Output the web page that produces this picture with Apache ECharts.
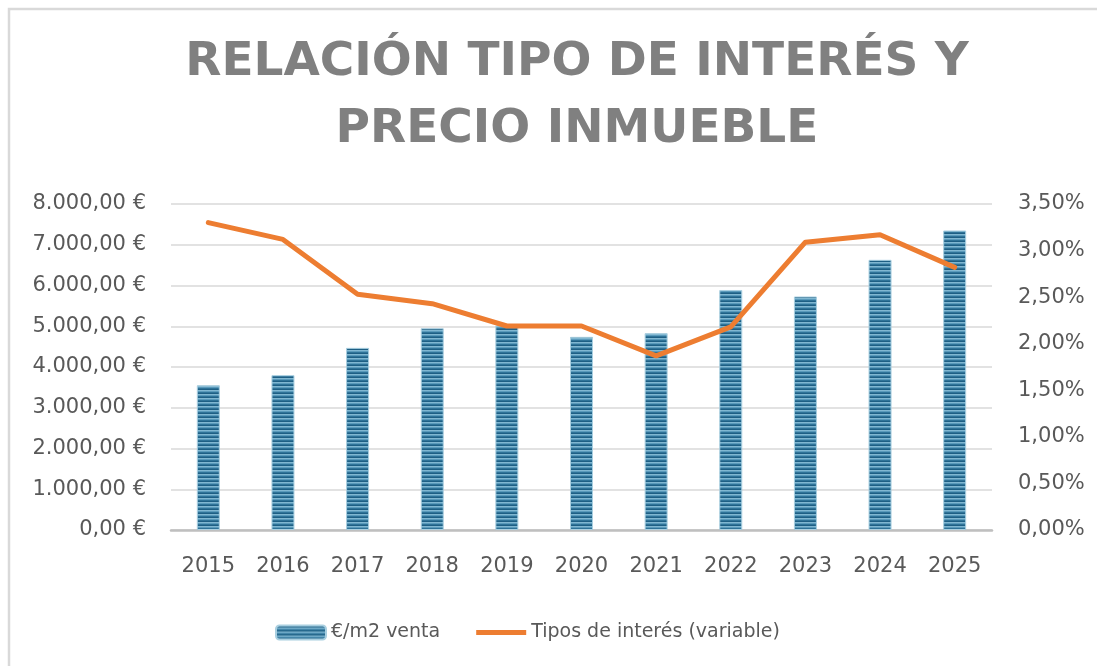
<!DOCTYPE html>
<html>
<head>
<meta charset="utf-8">
<title>Relación tipo de interés y precio inmueble</title>
<script src="https://cdn.jsdelivr.net/npm/echarts@6/dist/echarts.min.js"></script>
<style>
  html, body { margin: 0; padding: 0; background: #fff; }
  #chart { width: 1097px; height: 666px; }
</style>
</head>
<body>
<div id="chart"></div>
<script>
"use strict";
// datos
var years = ['2015', '2016', '2017', '2018', '2019', '2020', '2021', '2022', '2023', '2024', '2025'];
var precioM2 = [3550, 3800, 4470, 4950, 5020, 4740, 4830, 5890, 5730, 6630, 7350];
var tipoInteres = [3.30, 3.12, 2.53, 2.43, 2.19, 2.19, 1.87, 2.18, 3.09, 3.17, 2.82];
var nombreBarras = '€/m2 venta';
var nombreLinea = 'Tipos de interés (variable)';
var titulo = 'RELACIÓN TIPO DE INTERÉS Y\nPRECIO INMUEBLE';

// textura de rayas horizontales para las barras
function stripes() {
	var c = document.createElement('canvas');
	c.width = 4;
	c.height = 4;
	var ctx = c.getContext('2d');
	var cols = ['#2f7398', '#1e5f84', '#80b7d1', '#5a9abb'];
	for (var i = 0; i < cols.length; i++) {
		ctx.fillStyle = cols[i];
		ctx.fillRect(0, i, 4, 1);
	}
	return c;
}

function euros(v) {
	var s = String(Math.round(v)).replace(/\B(?=(\d{3})+(?!\d))/g, '.');
	return s + ',00 €';
}

var font = 'DejaVu Sans';
var myChart = echarts.init(document.getElementById('chart'));
var option = {
	backgroundColor: '#ffffff',
	animation: false,
	graphic: [{
		type: 'rect',
		silent: true,
		shape: { x: 9, y: 9, width: 1200, height: 800 },
		style: { fill: 'none', stroke: '#d9d9d9', lineWidth: 2.5 }
	}, {
		// titulo en dos lineas
		type: 'text',
		silent: true,
		x: 577,
		y: 29,
		style: {
			text: titulo,
			fontFamily: font,
			fontWeight: 'bold',
			fontSize: 47,
			lineHeight: 67,
			fill: '#808080',
			align: 'center',
			verticalAlign: 'top'
		}
	}],
	legend: {
		left: 270,
		top: 618,
		itemWidth: 50,
		itemHeight: 14,
		itemGap: 36,
		textStyle: { fontFamily: font, fontSize: 19, color: '#595959' },
		data: [
			{ name: nombreBarras },
			{ name: nombreLinea, icon: 'path://M0,0 M0,4.5 L50,4.5 L50,9.5 L0,9.5 Z M50,14', itemStyle: { color: '#ED7D31' } }
		]
	},
	grid: {
		left: 171,
		right: 105,
		top: 204,
		bottom: 136
	},
	xAxis: {
		type: 'category',
		data: years,
		axisTick: { show: false },
		axisLine: { lineStyle: { color: '#bfbfbf', width: 2.5 } },
		axisLabel: { fontFamily: font, fontSize: 21, color: '#595959', margin: 26 }
	},
	yAxis: [{
		type: 'value',
		min: 0,
		max: 8000,
		interval: 1000,
		axisLine: { show: false },
		axisTick: { show: false },
		splitLine: { lineStyle: { color: '#d9d9d9', width: 1.5 } },
		axisLabel: {
			fontFamily: font, fontSize: 21, color: '#595959', margin: 25,
			formatter: euros
		}
	}, {
		type: 'value',
		min: 0,
		max: 3.5,
		interval: 0.5,
		position: 'right',
		axisLine: { show: false },
		axisTick: { show: false },
		splitLine: { show: false },
		axisLabel: {
			fontFamily: font, fontSize: 21, color: '#595959', margin: 26,
			formatter: function (v) { return v.toFixed(2).replace('.', ',') + '%'; }
		}
	}],
	series: [{
		name: nombreBarras,
		type: 'bar',
		yAxisIndex: 0,
		barWidth: 23,
		data: precioM2,
		itemStyle: {
			color: { image: stripes(), repeat: 'repeat' },
			borderColor: '#a9cfe0',
			borderWidth: 1
		}
	}, {
		name: nombreLinea,
		type: 'line',
		yAxisIndex: 1,
		data: tipoInteres,
		symbol: 'none',
		lineStyle: { color: '#ED7D31', width: 5, cap: 'round', join: 'round' },
		itemStyle: { color: '#ED7D31' }
	}]
};
myChart.setOption(option);
</script>
</body>
</html>
